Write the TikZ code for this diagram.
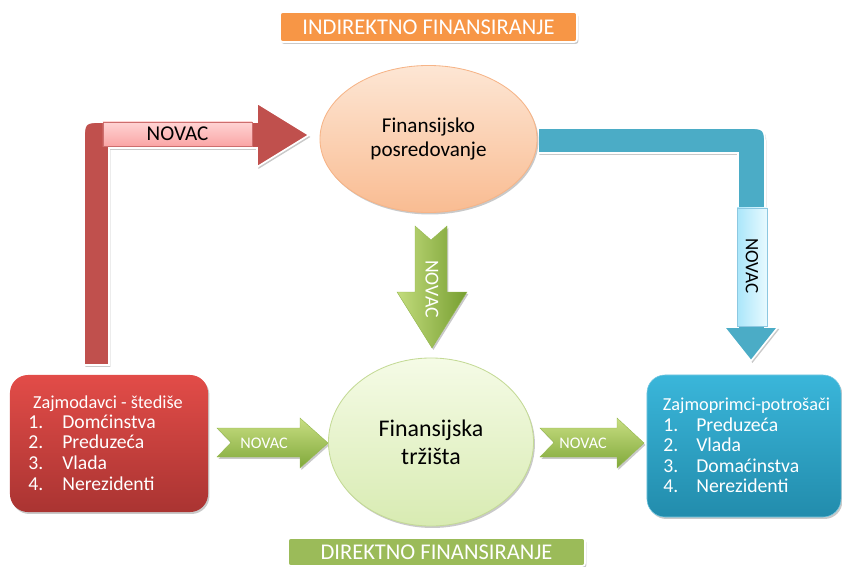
\documentclass[tikz,border=0pt]{standalone}
\usepackage{fontspec}
\setmainfont{Carlito}
\usetikzlibrary{shapes.geometric,shadows}

\definecolor{bandorange}{RGB}{247,150,70}
\definecolor{bandgreen}{RGB}{155,187,89}
\definecolor{arrowred}{RGB}{192,80,77}
\definecolor{arrowblue}{RGB}{75,172,198}

\begin{document}
\begin{tikzpicture}[x=0.025cm, y=-0.025cm,
  softshadow/.style={drop shadow={shadow xshift=1pt, shadow yshift=-1.4pt, opacity=0.3, fill=black!70}},
  band/.style={rectangle, rounded corners=2pt, draw=white, line width=1.2pt, softshadow,
    minimum width=7.425cm, text=white, inner sep=0, font=\fontsize{16}{18}\selectfont},
  bigarrow/.style={draw=white, line width=1.2pt, softshadow},
  chevron/.style={top color={rgb,255:red,200;green,222;blue,130}, bottom color={rgb,255:red,128;green,168;blue,58},
    draw={rgb,255:red,150;green,185;blue,80}, line width=0.3pt, softshadow},
  listbox/.style={rectangle, rounded corners=0.45cm, softshadow},
  boxtitle/.style={text=white, inner sep=0, anchor=base, font=\fontsize{13}{15}\selectfont},
  boxitem/.style={text=white, inner sep=0, anchor=base west, font=\fontsize{14}{16}\selectfont},
  money/.style={inner sep=0, font=\fontsize{14}{16}\selectfont}]
  \useasboundingbox (0,0) rectangle (842,566);
  \clip (0,0) rectangle (842,566);
  %--- Bands
  \node[band, fill=bandorange, minimum height=0.75cm] (indirect) at (428.5,27) {INDIREKTNO FINANSIRANJE};
  \node[band, fill=bandgreen, minimum height=0.7cm] (direct) at (436.5,552) {DIREKTNO FINANSIRANJE};
  %--- Red arrow
  \coordinate (rtip) at (309,135);
  \path[bigarrow, fill=arrowred] (84,365) -- (84,142) .. controls (84,122) .. (104,122) -- (257,122) -- (257,103)
    -- (rtip) -- (257,167) -- (257,148) -- (109,148) -- (109,365) -- cycle;
  \node[rectangle, minimum width=3.725cm, minimum height=0.6cm, inner sep=0,
    top color={rgb,255:red,255;green,212;blue,212}, bottom color={rgb,255:red,250;green,165;blue,165},
    draw={rgb,255:red,205;green,110;blue,110}, line width=0.3pt] (redlabel) at (177.5,134) {};
  \node[money, font=\fontsize{15}{16}\selectfont] (novacred) at (redlabel) {NOVAC};
  %--- Blue arrow
  \coordinate (btip) at (751,361);
  \path[bigarrow, fill=arrowblue] (538,128) -- (745,128) .. controls (765,128) .. (765,148) -- (765,327) -- (778,327)
    -- (btip) -- (724,327) -- (738,327) -- (738,153) -- (538,153) -- cycle;
  \node[rectangle, minimum width=0.75cm, minimum height=2.95cm, inner sep=0,
    left color={rgb,255:red,170;green,230;blue,250}, right color={rgb,255:red,232;green,250;blue,255},
    draw={rgb,255:red,140;green,200;blue,225}, line width=0.3pt] (bluelabel) at (752,267) {};
  \node[money, rotate=-90, font=\fontsize{13.5}{15}\selectfont] (novacblue) at (752,266) {NOVAC};
  %--- Green arrows
  \coordinate (gtip) at (432,348);
  \shade[left color={rgb,255:red,195;green,220;blue,125}, right color={rgb,255:red,118;green,158;blue,48},
    draw={rgb,255:red,150;green,185;blue,80}, line width=0.3pt, softshadow]
    (415,226) -- (431,240) -- (447,226) -- (447,292) -- (467,292) -- (gtip) -- (397,292) -- (415,292) -- cycle;
  \node[money, rotate=-90, text=white] (novacdown) at (432,289) {NOVAC};
  \coordinate (ltip) at (328,443);
  \shade[chevron] (217,428) -- (300,428) -- (300,418) -- (ltip) -- (300,468) -- (300,457) -- (217,457)
    -- (231,442.5) -- cycle;
  \node[money, text=white, font=\fontsize{11.5}{13}\selectfont] (novacleft) at (264,443) {NOVAC};
  \coordinate (ptip) at (644,443);
  \shade[chevron] (540,428) -- (617,428) -- (617,418) -- (ptip) -- (617,468) -- (617,457) -- (540,457)
    -- (554,442.5) -- cycle;
  \node[money, text=white, font=\fontsize{11.5}{13}\selectfont] (novacright) at (583,443) {NOVAC};
  %--- Ellipses
  \node[ellipse, minimum width=5.425cm, minimum height=3.675cm, inner sep=0, align=center,
    top color={rgb,255:red,253;green,230;blue,212}, bottom color={rgb,255:red,249;green,188;blue,146},
    draw={rgb,255:red,246;green,180;blue,135}, line width=0.6pt, softshadow,
    font=\fontsize{15}{17.5}\selectfont] (posred) at (428.5,139) {Finansijsko\\posredovanje};
  \node[ellipse, minimum width=5.125cm, minimum height=4.2cm, inner sep=0, align=center,
    top color={rgb,255:red,245;green,251;blue,230}, bottom color={rgb,255:red,216;green,235;blue,178},
    draw={rgb,255:red,196;green,218;blue,150}, line width=0.6pt, softshadow,
    font=\fontsize{17}{20}\selectfont] (trzista) at (431,442) {Finansijska\\tržišta};
  %--- Lenders
  \node[listbox, minimum width=4.95cm, minimum height=3.425cm,
    top color={rgb,255:red,226;green,76;blue,72}, bottom color={rgb,255:red,170;green,52;blue,50}] (lender) at (109,443.5) {};
  \node[boxtitle] (lendtitle) at (108,408) {Zajmodavci - štediše};
  \node[boxitem] (lend1) at (28,428) {1.};
  \node[boxitem] (lend1t) at (62,428) {Domćinstva};
  \node[boxitem] (lend2) at (28,448.7) {2.};
  \node[boxitem] (lend2t) at (62,448.7) {Preduzeća};
  \node[boxitem] (lend3) at (28,469.4) {3.};
  \node[boxitem] (lend3t) at (62,469.4) {Vlada};
  \node[boxitem] (lend4) at (28,490) {4.};
  \node[boxitem] (lend4t) at (62,490) {Nerezidenti};
  %--- Borrowers
  \node[listbox, minimum width=4.85cm, minimum height=3.55cm,
    top color={rgb,255:red,58;green,182;blue,218}, bottom color={rgb,255:red,34;green,140;blue,172},
    draw={rgb,255:red,120;green,200;blue,225}, line width=0.4pt] (borrower) at (744,446) {};
  \node[boxtitle] (borrtitle) at (746.5,410) {Zajmoprimci-potrošači};
  \node[boxitem] (borr1) at (663,431) {1.};
  \node[boxitem] (borr1t) at (696,431) {Preduzeća};
  \node[boxitem] (borr2) at (663,451.5) {2.};
  \node[boxitem] (borr2t) at (696,451.5) {Vlada};
  \node[boxitem] (borr3) at (663,472) {3.};
  \node[boxitem] (borr3t) at (696,472) {Domaćinstva};
  \node[boxitem] (borr4) at (663,492.5) {4.};
  \node[boxitem] (borr4t) at (696,492.5) {Nerezidenti};
\end{tikzpicture}
\end{document}
